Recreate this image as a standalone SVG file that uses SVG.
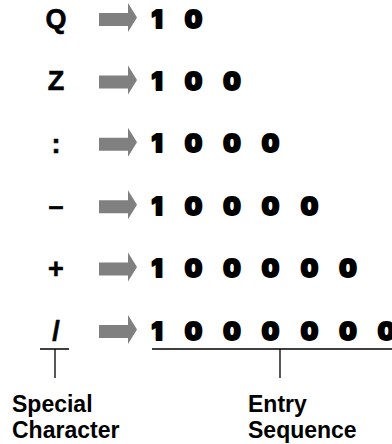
<svg xmlns="http://www.w3.org/2000/svg" xmlns:xlink="http://www.w3.org/1999/xlink" width="392" height="444" viewBox="0 0 392 444">
<style>
.ch{font-family:"Liberation Sans",Arial,sans-serif;font-weight:bold;font-size:27px;fill:#000;stroke:#000;stroke-width:0.6;text-anchor:middle}
.dg{font-family:Inter,"DejaVu Sans",sans-serif;font-weight:900;font-size:24.5px;fill:#000;stroke:#000;stroke-width:1.9;stroke-linejoin:round;text-anchor:middle}
.lb{font-family:"Liberation Sans",Arial,sans-serif;font-weight:bold;font-size:23px;fill:#000}
.ln{stroke:#000;stroke-width:1.3;fill:none}
.ar{fill:#808080}
</style>
<defs>
<path id="arrow" class="ar" d="M99,-15 H128 V-25 L137,-10.5 L128,4 V-2 H99 Z"/>
</defs>
<g id="row-Q"><text class="ch" x="56" y="28">Q</text><text class="dg" x="157 193.5" y="27.5">10</text></g>
<g id="row-Z"><text class="ch" x="56" y="90.4">Z</text><text class="dg" x="157 193.5 232" y="89.9">100</text></g>
<g id="row-colon"><text class="ch" x="56" y="152.8">:</text><text class="dg" x="157 193.5 232 270.5" y="152.3">1000</text></g>
<g id="row-dash"><text class="ch" x="56" y="215.2">–</text><text class="dg" x="157 193.5 232 270.5 309.5" y="214.7">10000</text></g>
<g id="row-plus"><text class="ch" x="56" y="277.6">+</text><text class="dg" x="157 193.5 232 270.5 309.5 348" y="277.1">100000</text></g>
<g id="row-slash"><text class="ch" x="56" y="340">/</text><text class="dg" x="157 193.5 232 270.5 309.5 348 386.5" y="339.5">1000000</text></g>
<g id="label-special"><text class="lb" x="12" y="412">Special</text><text class="lb" x="12" y="438">Character</text></g>
<g id="label-entry"><text class="lb" x="248" y="412">Entry</text><text class="lb" x="248" y="438">Sequence</text></g>
<g id="connectors">
<use xlink:href="#arrow" transform="translate(0,28)"/>
<use xlink:href="#arrow" transform="translate(0,90.4)"/>
<use xlink:href="#arrow" transform="translate(0,152.8)"/>
<use xlink:href="#arrow" transform="translate(0,215.2)"/>
<use xlink:href="#arrow" transform="translate(0,277.6)"/>
<use xlink:href="#arrow" transform="translate(0,340)"/>
<path class="ln" d="M40,349 H69 M55,349 V378"/>
<path class="ln" d="M152,349 H392 M280,349 V378"/>
</g>
</svg>
